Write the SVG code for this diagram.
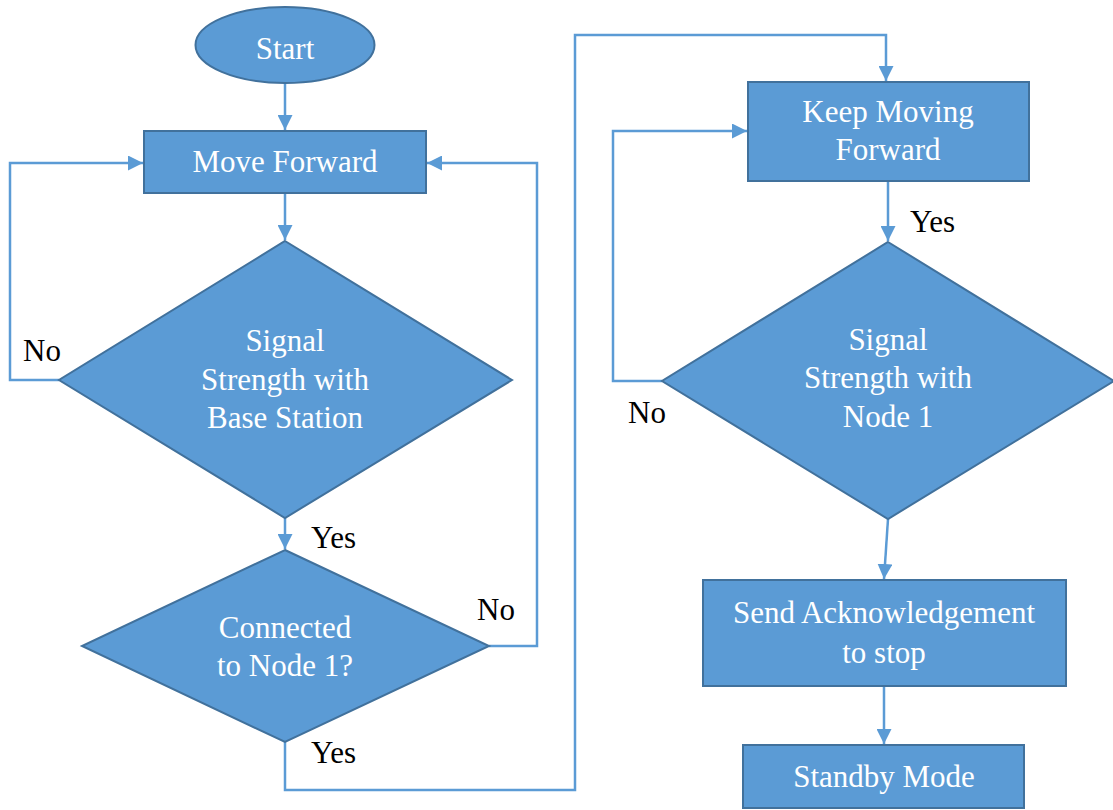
<svg xmlns="http://www.w3.org/2000/svg" width="1113" height="810" viewBox="0 0 1113 810">
<style>
.n{fill:#5B9BD5;stroke:#41719C;stroke-width:2}
text{font-family:'Liberation Serif',serif;font-size:31px}
.t{fill:#fff;text-anchor:middle}
.l{fill:#000}
.c{fill:none;stroke:#5B9BD5;stroke-width:2.5}
</style>
<defs>
<marker id="a" markerUnits="userSpaceOnUse" markerWidth="15" markerHeight="15" refX="15" refY="7.5" orient="auto">
<path d="M0,0 L15,7.5 L0,15 z" fill="#5B9BD5"/>
</marker>
</defs>
<g id="connectors">
<path class="c" d="M285,83 V130" marker-end="url(#a)"/>
<path class="c" d="M285,193 V240" marker-end="url(#a)"/>
<path class="c" d="M59,380 H10 V163 H143" marker-end="url(#a)"/>
<path class="c" d="M285,518 V549" marker-end="url(#a)"/>
<path class="c" d="M489,646 H537 V163 H427" marker-end="url(#a)"/>
<path class="c" d="M285,742 V790 H575 V35 H886 V81" marker-end="url(#a)"/>
<path class="c" d="M888,181 V241" marker-end="url(#a)"/>
<path class="c" d="M662,381 H613 V131 H747" marker-end="url(#a)"/>
<path class="c" d="M888,519 L884,579" marker-end="url(#a)"/>
<path class="c" d="M884,686 V744" marker-end="url(#a)"/>
</g>
<g id="labels">
<text class="l" x="23" y="361" font-family="Liberation Serif">No</text>
<text class="l" x="311" y="548" font-family="Liberation Serif">Yes</text>
<text class="l" x="477" y="620" font-family="Liberation Serif">No</text>
<text class="l" x="311" y="763" font-family="Liberation Serif">Yes</text>
<text class="l" x="910" y="232" font-family="Liberation Serif">Yes</text>
<text class="l" x="628" y="423" font-family="Liberation Serif">No</text>
</g>
<g id="start">
<ellipse class="n" cx="285" cy="45" rx="89.5" ry="38"/>
<text class="t" x="285" y="59" font-family="Liberation Serif">Start</text>
</g>
<g id="move-forward">
<rect class="n" x="144" y="131" width="282" height="62"/>
<text class="t" x="285" y="172" font-family="Liberation Serif">Move Forward</text>
</g>
<g id="signal-base">
<polygon class="n" points="285,241 512,380 285,518 59,380"/>
<text class="t" x="285" y="351" font-family="Liberation Serif">Signal</text>
<text class="t" x="285" y="390" font-family="Liberation Serif">Strength with</text>
<text class="t" x="285" y="428" font-family="Liberation Serif">Base Station</text>
</g>
<g id="connected">
<polygon class="n" points="285,550 489,646 285,742 82,646"/>
<text class="t" x="285" y="638" font-family="Liberation Serif">Connected</text>
<text class="t" x="285" y="676" font-family="Liberation Serif">to Node 1?</text>
</g>
<g id="keep-moving">
<rect class="n" x="748" y="82" width="281" height="99"/>
<text class="t" x="888" y="122" font-family="Liberation Serif">Keep Moving</text>
<text class="t" x="888" y="160" font-family="Liberation Serif">Forward</text>
</g>
<g id="signal-node1">
<polygon class="n" points="888,242 1114,381 888,519 662,381"/>
<text class="t" x="888" y="350" font-family="Liberation Serif">Signal</text>
<text class="t" x="888" y="388" font-family="Liberation Serif">Strength with</text>
<text class="t" x="888" y="427" font-family="Liberation Serif">Node 1</text>
</g>
<g id="send-ack">
<rect class="n" x="703" y="580" width="363" height="106"/>
<text class="t" x="884" y="623" font-family="Liberation Serif">Send Acknowledgement</text>
<text class="t" x="884" y="663" font-family="Liberation Serif">to stop</text>
</g>
<g id="standby">
<rect class="n" x="743" y="745" width="281" height="63"/>
<text class="t" x="884" y="787" font-family="Liberation Serif">Standby Mode</text>
</g>
</svg>
